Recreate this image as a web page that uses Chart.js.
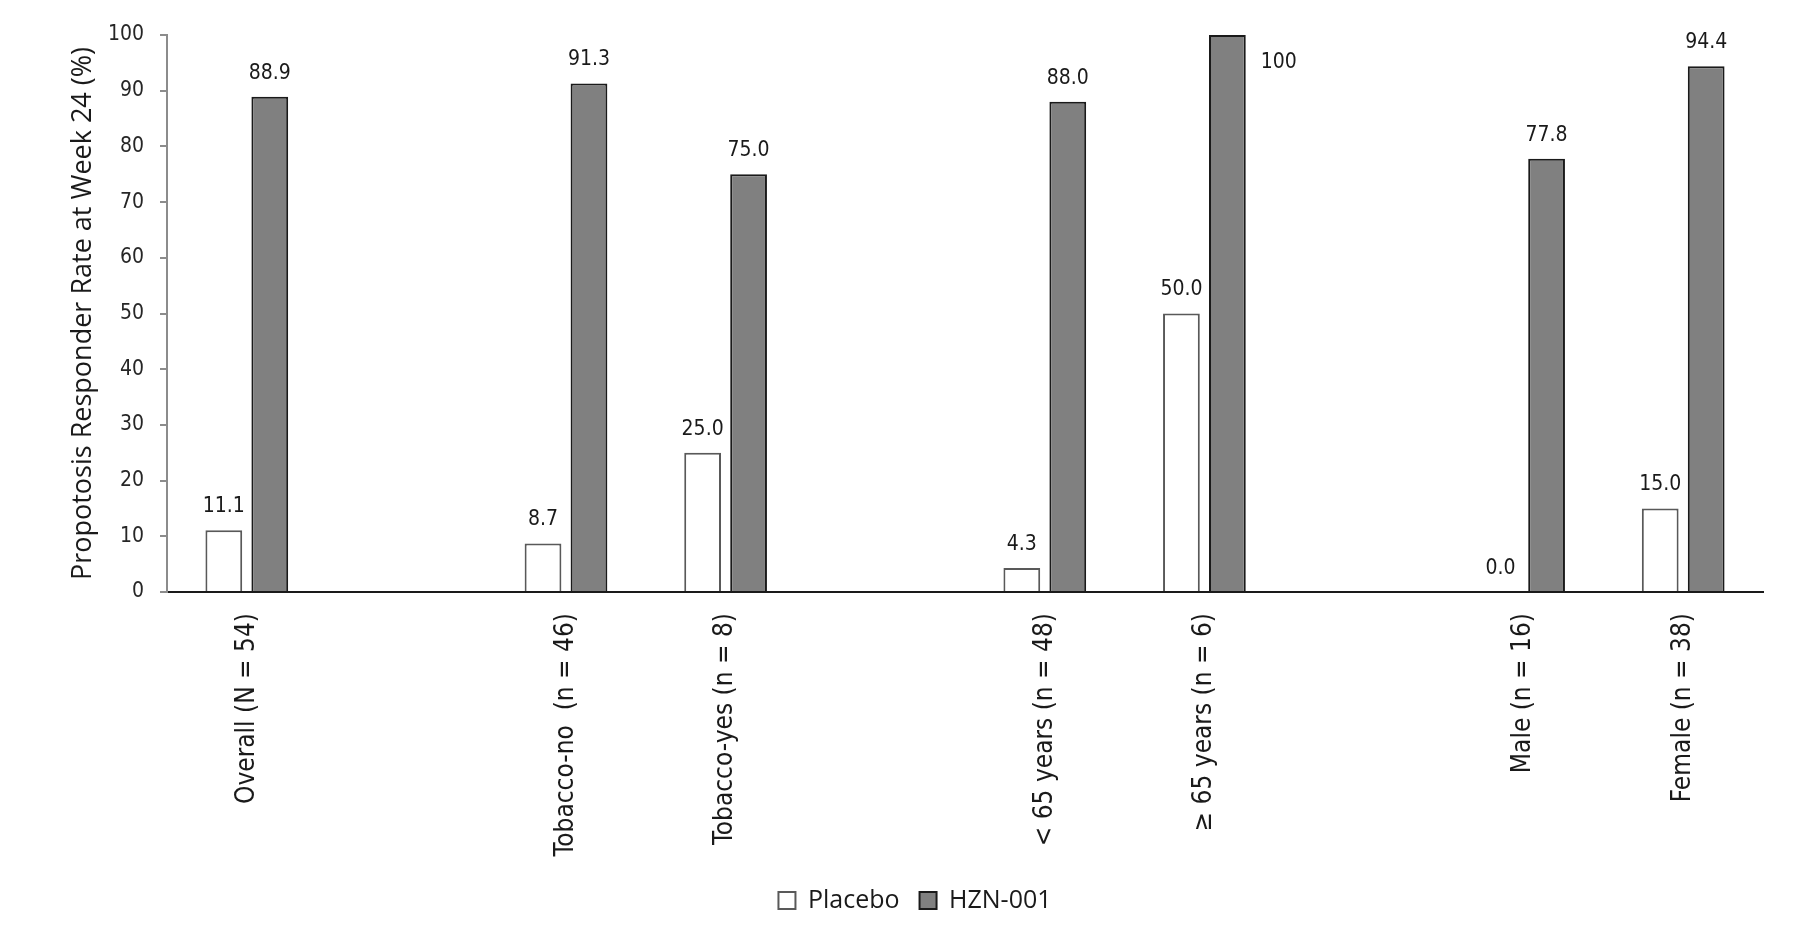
<!DOCTYPE html>
<html>
<head>
<meta charset="utf-8">
<script src="https://cdn.jsdelivr.net/npm/chart.js@4.4.0/dist/chart.umd.min.js"></script>
<style>
  html, body { margin: 0; padding: 0; background: #ffffff; }
  #wrap { width: 1800px; height: 939px; }
</style>
</head>
<body>
<div id="wrap"><canvas id="responderChart" width="1800" height="939"></canvas></div>
<script>
// Subgroups on the x-axis (empty strings are the gaps between groups)
const categories = ['Overall (N = 54)', '', 'Tobacco-no  (n = 46)', 'Tobacco-yes (n = 8)', '',
                    '< 65 years (n = 48)', '\u2265 65 years (n = 6)', '', 'Male (n = 16)', 'Female (n = 38)'];

// Responder rates (%)
const placeboValues = [11.1, null, 8.7, 25.0, null, 4.3, 50.0, null, 0.0, 15.0];
const hznValues = [88.9, null, 91.3, 75.0, null, 88.0, 100, null, 77.8, 94.4];

// Y axis ticks
const yTicks = [0, 10, 20, 30, 40, 50, 60, 70, 80, 90, 100];

const labelFont = '"DejaVu Sans Condensed", "Liberation Sans", sans-serif';
const legendFont = '"Open Sans", "Liberation Sans", sans-serif';

// Draw the numbers above each bar
const valueLabels = {
    id: 'valueLabels',
    afterDatasetsDraw(chart) {
        const ctx = chart.ctx;
        ctx.save();
        ctx.font = '21px ' + labelFont;
        ctx.fillStyle = '#1a1a1a';
        chart.data.datasets.forEach((ds, di) => {
            const meta = chart.getDatasetMeta(di);
            meta.data.forEach((bar, i) => {
                const v = ds.data[i];
                if (v === null || v === undefined) return;
                const text = v >= 100 ? '100' : v.toFixed(1);
                if (v >= 100) {
                    // the 100 label sits beside the bar
                    ctx.textAlign = 'left';
                    ctx.textBaseline = 'middle';
                    ctx.fillText(text, bar.x + bar.width / 2 + 15, bar.y + 28);
                } else {
                    ctx.textAlign = 'center';
                    ctx.textBaseline = 'bottom';
                    ctx.fillText(text, bar.x, bar.y - 13);
                }
            });
        });
        ctx.restore();
    }
};

const ctx = document.getElementById('responderChart').getContext('2d');
const chart = new Chart(ctx, {
    type: 'bar',
    data: {
        labels: categories,
        datasets: [
            {
                label: 'Placebo',
                data: placeboValues,
                backgroundColor: '#ffffff',
                borderColor: '#595959',
                borderWidth: 2,
                categoryPercentage: 0.576,
                barPercentage: 0.8
            },
            {
                label: 'HZN-001',
                data: hznValues,
                backgroundColor: '#808080',
                borderColor: '#1a1a1a',
                borderWidth: 2,
                categoryPercentage: 0.576,
                barPercentage: 0.8
            }
        ]
    },
    options: {
        responsive: false,
        animation: false,
        layout: {
            padding: { left: 67, right: 37, top: 35, bottom: 16 }
        },
        scales: {
            x: {
                grid: { display: false, drawTicks: false },
                border: { display: true, color: '#1a1a1a', width: 2 },
                ticks: {
                    autoSkip: false,
                    minRotation: 90,
                    maxRotation: 90,
                    padding: 21,
                    color: '#1a1a1a',
                    font: { family: labelFont, size: 26 }
                },
                afterFit(scale) { scale.height = 276; }
            },
            y: {
                min: 0,
                max: 100,
                afterBuildTicks(scale) { scale.ticks = yTicks.map(v => ({ value: v })); },
                grid: { drawOnChartArea: false, drawTicks: true, tickLength: 7, color: '#8c8c8c', lineWidth: 2 },
                border: { display: true, color: '#8c8c8c', width: 2 },
                ticks: {
                    padding: 16,
                    color: '#262626',
                    font: { family: labelFont, size: 21 }
                },
                title: {
                    display: true,
                    text: 'Propotosis Responder Rate at Week 24 (%)',
                    color: '#1a1a1a',
                    font: { family: legendFont, size: 27 },
                    padding: { top: 0, bottom: 0 }
                },
                afterFit(scale) { scale.width = 100; }
            }
        },
        plugins: {
            legend: {
                position: 'bottom',
                labels: {
                    boxWidth: 17,
                    boxHeight: 17,
                    padding: 20,
                    color: '#1a1a1a',
                    font: { family: legendFont, size: 25 }
                }
            },
            tooltip: { enabled: false }
        }
    },
    plugins: [valueLabels]
});
</script>
</body>
</html>
